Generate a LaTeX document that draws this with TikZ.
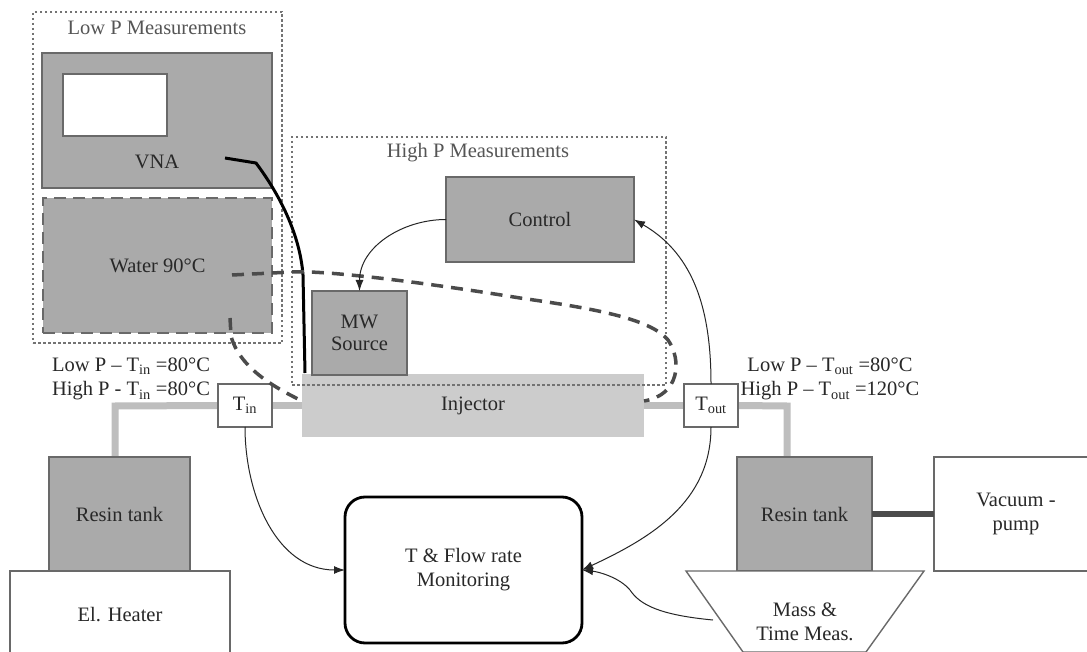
\documentclass[tikz,border=0pt]{standalone}
\usepackage{fontspec}
\setmainfont{Liberation Serif}
\usetikzlibrary{arrows.meta}
\pgfdeclarelayer{background}
\pgfsetlayers{background,main}
\definecolor{boxgray}{RGB}{170,170,170}
\definecolor{edgegray}{RGB}{105,105,105}
\definecolor{injgray}{RGB}{204,204,204}
\definecolor{pipegray}{RGB}{190,190,190}
\definecolor{txtgray}{RGB}{40,40,40}
\definecolor{lbl}{RGB}{85,85,85}
\definecolor{dotgray}{RGB}{115,115,115}
\definecolor{watergray}{RGB}{75,75,75}
\tikzset{
  base/.style={font=\fontsize{20.5}{24}\selectfont, text=txtgray, align=center, inner sep=0pt, outer sep=0pt},
  graybox/.style={base, draw=edgegray, line width=2.6pt, fill=boxgray},
  whitebox/.style={base, draw=edgegray, line width=1.4pt, fill=white},
  waterbox/.style={base, draw=edgegray, line width=2.8pt, fill=boxgray, dash pattern=on 12pt off 7pt},
  dotbox/.style={draw=dotgray, line width=1.3pt, dash pattern=on 2.5pt off 2.5pt},
  pipe/.style={draw=pipegray, line width=7pt},
  waterline/.style={draw=watergray, line width=3.5pt, dash pattern=on 12pt off 8pt},
  sig/.style={draw=black!85, line width=1pt, -{Latex[length=11pt,width=8pt]}},
  lab/.style={base, text=lbl}
}
\begin{document}
\begin{tikzpicture}[x=1pt,y=-1pt]
\useasboundingbox (0,0) rectangle (1087,652);
\begin{pgfonlayer}{background}
\fill[white] (0,0) rectangle (1087,652);
\end{pgfonlayer}
% injector line
\node[base, fill=injgray, minimum width=342pt, minimum height=63pt] (inj) at (473,405.5) {Injector};
\node[whitebox, minimum width=54pt, minimum height=43pt] (tin) at (245,405.5) {T\textsubscript{in}};
\node[whitebox, minimum width=54pt, minimum height=43pt] (tout) at (711,405.5) {T\textsubscript{out}};
\node[graybox, minimum width=141pt, minimum height=114pt] (resinL) at (119.5,514) {Resin tank};
\node[graybox, minimum width=135pt, minimum height=114pt] (resinR) at (804.5,514) {Resin tank};
\coordinate (pl) at (115,406);
\coordinate (pr) at (787,406);
\begin{pgfonlayer}{background}
\draw[pipe] (resinL.north -| pl) -- (pl) -- (tin.west);
\draw[pipe] (tin.east) -- (inj.west);
\draw[pipe] (inj.east) -- (tout.west);
\draw[pipe] (tout.east) -- (pr) -- (resinR.north -| pr);
\end{pgfonlayer}
% low P
\node[graybox, minimum width=230pt, minimum height=135pt] (vna) at (157,120.5) {};
\node[base] (vnat) at (157,162) {VNA};
\node[base, draw=edgegray, line width=1.4pt, fill=white, minimum width=104pt, minimum height=62pt] (screen) at (115,105) {};
\node[waterbox, minimum width=229pt, minimum height=135pt] (water) at (157.5,265.5) {Water 90°C};
\node[dotbox, minimum width=249pt, minimum height=331pt] (lowp) at (157.5,177.5) {};
\node[lab] (lowpt) at (157,28) {Low P Measurements};
% high P
\node[graybox, minimum width=188pt, minimum height=85pt] (ctrl) at (540,219.5) {Control};
\node[graybox, minimum width=95pt, minimum height=84pt] (mw) at (359.5,333) {MW\\[-2pt]Source};
\node[dotbox, minimum width=374pt, minimum height=248pt] (highp) at (479,261) {};
\node[lab] (highpt) at (478,153) {High P Measurements};
% VNA cable
\coordinate (c0) at (225,158);
\coordinate (cab) at (305,373);
\draw[black, line width=3pt, line join=round] (c0) -- (256,163) .. controls (280,195) and (300,235) .. (303,275) -- (cab);
% water lines
\coordinate (w1) at (232,275);
\coordinate (w2) at (230,318);
\draw[waterline] (w1) -- (292,272) .. controls (330,270) and (440,285) .. (520,298)
  .. controls (590,308) and (650,318) .. (668,340) .. controls (682,360) and (680,395) .. (inj.east |- 0,401);
\draw[waterline] (w2) -- (231,336) .. controls (240,370) and (280,390) .. (inj.west |- 0,401);
% labels
\node[base] (l1) at (131,366) {Low P -- T\textsubscript{in} =80°C};
\node[base] (l2) at (131,391) {High P - T\textsubscript{in} =80°C};
\node[base] (l3) at (830,366) {Low P -- T\textsubscript{out} =80°C};
\node[base] (l4) at (830,391) {High P -- T\textsubscript{out} =120°C};
% bottom
\node[whitebox, minimum width=220pt, minimum height=88pt] (heater) at (120,615) {El. Heater};
\node[base, draw=black, line width=2.8pt, rounded corners=20pt, fill=white, minimum width=237pt, minimum height=146pt] (flow) at (463.5,570) {T \& Flow rate\\Monitoring};
\node[whitebox, minimum width=164pt, minimum height=114pt] (vac) at (1016,514) {Vacuum -\\pump};
\draw[draw=black!70, line width=6pt] (resinR.east) -- (vac.west);
\draw[draw=edgegray, line width=1.4pt, fill=white] (686,571) -- (924,571) -- (866,652) -- (743,652) -- cycle;
\node[base] (mass) at (805,622) {Mass \&\\Time Meas.};
\coordinate (ms) at (713,620);
% signal arrows
\draw[sig] (ctrl.west) to[out=180,in=90] (mw.north);
\draw[sig] (tin.south) to[out=-90,in=180] (flow.west);
\draw[sig] (tout.north) to[out=90,in=-30] (ctrl.east);
\draw[sig] (tout.south) to[out=-90,in=25] (flow.east);
\draw[sig] (ms) .. controls (660,615) and (640,605) .. (630,590) .. controls (620,578) and (600,572) .. (flow.east);
\end{tikzpicture}
\end{document}
